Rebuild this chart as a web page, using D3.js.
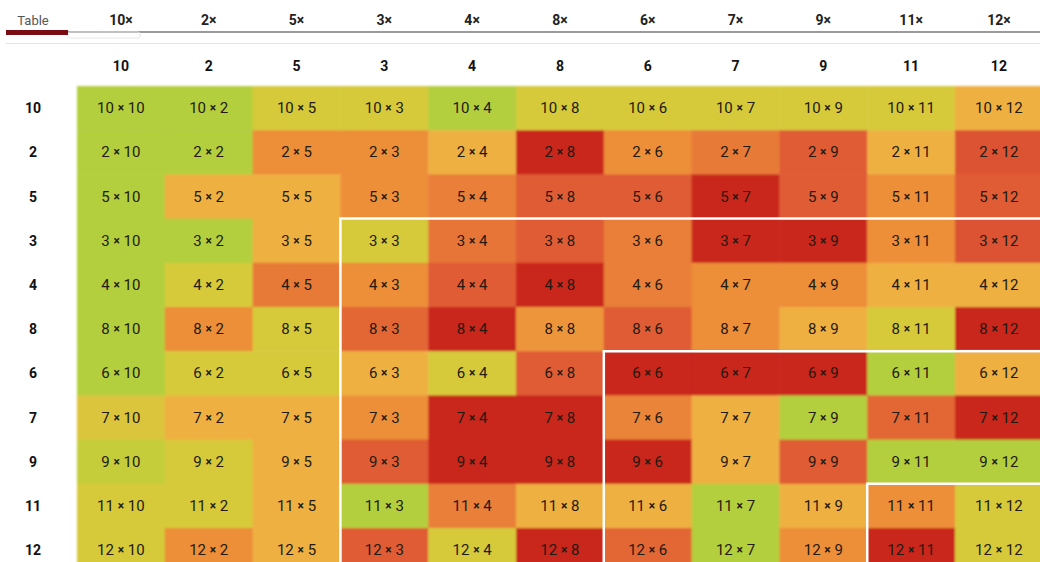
<!DOCTYPE html>
<html>
<head>
<meta charset="utf-8">
<script src="https://cdn.jsdelivr.net/npm/d3@7"></script>
<style>
  body{margin:0;background:#fff;}
  svg{display:block;font-family:Roboto,"Noto Sans",sans-serif;}
</style>
</head>
<body>
<div id="chart"></div>
<script>
// order of the factors along both axes
const factors = [10, 2, 5, 3, 4, 8, 6, 7, 9, 11, 12];
const tabLabels = ["Table", "10×", "2×", "5×", "3×", "4×", "8×", "6×", "7×", "9×", "11×", "12×"];
// difficulty heat per cell, 0 = easy (green) .. 5 = hard (red), rows follow factors
const heat = [
  [0, 0, 1, 1, 0, 1, 1, 1, 1, 1, 2],
  [0, 0, 3, 3, 2, 5, 3, 3.4, 4, 2, 4.2],
  [0, 2, 2, 3, 3.3, 4, 4, 5, 4, 3, 4],
  [0, 0, 2, 1, 3.5, 4, 3.3, 5, 5, 3, 4.2],
  [0, 1, 3.4, 3, 4, 5, 3.3, 3, 3, 2, 2],
  [0, 3, 1, 3.8, 5, 2.8, 4, 3, 2, 1, 5],
  [0, 1, 1, 2, 1, 4, 5, 5, 5, 0, 2],
  [1.2, 2, 2, 3, 5, 5, 3.2, 2, 0, 3.8, 5],
  [0.5, 1, 2, 4, 5, 5, 5, 2, 4, 0, 0],
  [1, 1, 2, 0, 3.3, 2, 2, 0, 2, 3, 1],
  [1, 3, 2, 4, 1, 5, 3.8, 0, 3, 5, 1]
];
// index where each group of tables starts (white outline)
const groupStarts = [3, 6, 9];

const W = 1040, H = 562;
const gx = 77, gy = 86, cw = 87.8, ch = 44.2;

const svg = d3.select("#chart").append("svg")
  .attr("width", W).attr("height", H);

const defs = svg.append("defs");
defs.append("filter").attr("id", "soft")
  .attr("x", "-2%").attr("y", "-2%").attr("width", "104%").attr("height", "104%")
  .append("feGaussianBlur").attr("stdDeviation", 1.2);

const x = d3.scaleBand().domain(factors).range([gx, gx + cw * factors.length]);
const y = d3.scaleBand().domain(factors).range([gy, gy + ch * factors.length]);
const color = d3.scaleLinear()
  .domain([0, 1, 2, 3, 4, 5])
  .range(["#b4cf3c", "#d6ca3a", "#efb043", "#ed8e39", "#e05c34", "#c9281f"])
  .interpolate(d3.interpolateRgb);

// tabs
const tabX = (d, i) => i == 0 ? 33 : x(factors[i - 1]) + x.bandwidth() / 2;
svg.append("g").selectAll("text")
  .data(tabLabels).enter()
  .append("text")
  .attr("x", tabX)
  .attr("y", 25)
  .attr("text-anchor", "middle")
  .attr("font-size", (d, i) => i == 0 ? 13 : 14)
  .attr("font-weight", (d, i) => i == 0 ? 400 : 700)
  .attr("fill", (d, i) => i == 0 ? "#555" : "#222")
  .text(d => d);
svg.append("line").attr("x1", 6).attr("x2", W).attr("y1", 32).attr("y2", 32)
  .attr("stroke", "#9a9a9a").attr("stroke-width", 2);
svg.append("rect").attr("x", 68).attr("y", 32).attr("width", 72).attr("height", 6)
  .attr("rx", 2).attr("fill", "none").attr("stroke", "#e6e6e6");
svg.append("rect").attr("x", 6).attr("y", 30).attr("width", 62).attr("height", 5)
  .attr("fill", "#7a0d14");
svg.append("line").attr("x1", 6).attr("x2", W).attr("y1", 43.5).attr("y2", 43.5)
  .attr("stroke", "#e4e4e4").attr("stroke-width", 1);

// column and row headers
svg.append("g").selectAll("text")
  .data(factors).enter()
  .append("text")
  .attr("x", d => x(d) + x.bandwidth() / 2)
  .attr("y", 71)
  .attr("text-anchor", "middle")
  .attr("font-size", 14).attr("font-weight", 700).attr("fill", "#111")
  .text(d => d);
svg.append("g").selectAll("text")
  .data(factors).enter()
  .append("text")
  .attr("x", 33)
  .attr("y", d => y(d) + y.bandwidth() / 2 + 5)
  .attr("text-anchor", "middle")
  .attr("font-size", 14).attr("font-weight", 700).attr("fill", "#111")
  .text(d => d);

// cells
const cells = [];
factors.forEach((r, i) => factors.forEach((c, j) => cells.push({r: r, c: c, v: heat[i][j]})));

svg.append("g").attr("filter", "url(#soft)")
  .selectAll("rect")
  .data(cells).enter()
  .append("rect")
  .attr("x", d => x(d.c))
  .attr("y", d => y(d.r))
  .attr("width", x.bandwidth() + 0.5)
  .attr("height", y.bandwidth() + 0.5)
  .attr("fill", d => color(d.v));

const lab = svg.append("g").selectAll("text")
  .data(cells).enter()
  .append("text")
  .attr("x", d => x(d.c) + x.bandwidth() / 2)
  .attr("y", d => y(d.r) + y.bandwidth() / 2 + 5)
  .attr("text-anchor", "middle")
  .attr("font-size", 15)
  .attr("font-weight", 400)
  .attr("fill", "#231a12");
lab.append("tspan").text(d => d.r + " ");
lab.append("tspan").attr("font-size", 12).attr("font-weight", 700).attr("dy", -1).text("×");
lab.append("tspan").attr("dy", 1).text(d => " " + d.c);

// white outlines around groups
const right = x.range()[1], bottom = y.range()[1];
svg.append("g").selectAll("path")
  .data(groupStarts).enter()
  .append("path")
  .attr("d", k => `M${x(factors[k])},${bottom}V${y(factors[k])}H${right}`)
  .attr("fill", "none")
  .attr("stroke", "#fff")
  .attr("stroke-width", 2.5);
</script>
</body>
</html>
